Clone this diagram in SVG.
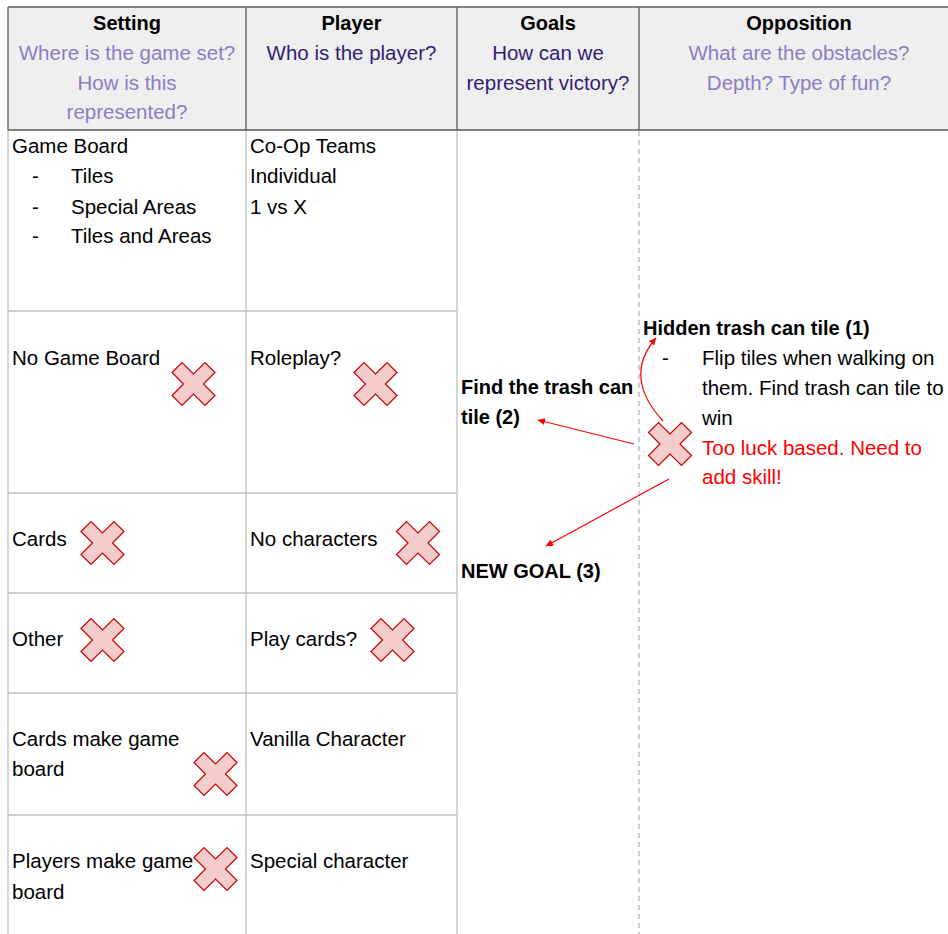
<svg xmlns="http://www.w3.org/2000/svg" width="948" height="934" viewBox="0 0 948 934">
<defs>
<style>
.t{font-family:"Liberation Sans",Arial,sans-serif;font-size:20.5px;fill:#000}
.b{font-family:"Liberation Sans",Arial,sans-serif;font-size:20px;font-weight:bold;fill:#000}
.hl{fill:#8e7cc3}
.hd{fill:#351c75}
.red{fill:#ff0000}
.c{text-anchor:middle}
.hb{stroke:#595959;stroke-width:1.3;fill:none}
.gl{stroke:#c0c0c0;stroke-width:1.3;fill:none}
.dash{stroke:#b0b0b0;stroke-width:1.2;stroke-dasharray:5 4;fill:none}
.x{fill:#f4cccc;stroke:#cc0000;stroke-width:1.2}
.arr{stroke:#ff0000;stroke-width:1.2;fill:none;marker-end:url(#ah)}
</style>
<path id="cross" class="x" d="M-21.5,-11.5 L-11.5,-21.5 L0,-10 L11.5,-21.5 L21.5,-11.5 L10,0 L21.5,11.5 L11.5,21.5 L0,10 L-11.5,21.5 L-21.5,11.5 L-10,0 Z"/>
<marker id="ah" markerWidth="8" markerHeight="8" refX="7" refY="4" orient="auto" markerUnits="userSpaceOnUse">
<path d="M0,0.5 L7.5,4 L0,7.5 Z" fill="#ff0000"/>
</marker>
</defs>
<rect width="948" height="934" fill="#ffffff"/>

<g id="grid">
<rect x="8" y="7" width="960" height="123" fill="#efefef"/>
<path class="gl" d="M8,130 V934 M246,130 V934 M457,130 V934 M8,311 H457 M8,493 H457 M8,593 H457 M8,693 H457 M8,815 H457"/>
<path class="dash" d="M639,131 V934"/>
<path class="hb" d="M8,7 H948 M8,130 H948 M8,7 V130 M246,7 V130 M457,7 V130 M639,7 V130"/>
</g>

<g id="header-setting">
<text class="b c" x="127" y="30">Setting</text>
<text class="t hl c" x="127" y="60">Where is the game set?</text>
<text class="t hl c" x="127" y="90">How is this</text>
<text class="t hl c" x="127" y="119">represented?</text>
</g>
<g id="header-player">
<text class="b c" x="351.5" y="30">Player</text>
<text class="t hd c" x="351.5" y="60">Who is the player?</text>
</g>
<g id="header-goals">
<text class="b c" x="548" y="30">Goals</text>
<text class="t hd c" x="548" y="60">How can we</text>
<text class="t hd c" x="548" y="90">represent victory?</text>
</g>
<g id="header-opposition">
<text class="b c" x="799" y="30">Opposition</text>
<text class="t hl c" x="799" y="60">What are the obstacles?</text>
<text class="t hl c" x="799" y="90">Depth? Type of fun?</text>
</g>

<g id="setting-game-board">
<text class="t" x="12" y="153">Game Board</text>
<text class="t" x="32" y="183">-</text><text class="t" x="71" y="183">Tiles</text>
<text class="t" x="32" y="214">-</text><text class="t" x="71" y="214">Special Areas</text>
<text class="t" x="32" y="243">-</text><text class="t" x="71" y="243">Tiles and Areas</text>
</g>
<g id="player-types">
<text class="t" x="250" y="153">Co-Op Teams</text>
<text class="t" x="250" y="183">Individual</text>
<text class="t" x="250" y="214">1 vs X</text>
</g>
<g id="setting-no-board">
<text class="t" x="12" y="365">No Game Board</text>
<use href="#cross" x="193.5" y="384"/>
</g>
<g id="player-roleplay">
<text class="t" x="250" y="365">Roleplay?</text>
<use href="#cross" x="375.5" y="384"/>
</g>
<g id="setting-cards">
<text class="t" x="12" y="546">Cards</text>
<use href="#cross" x="102.5" y="543"/>
</g>
<g id="player-no-characters">
<text class="t" x="250" y="546">No characters</text>
<use href="#cross" x="418" y="543"/>
</g>
<g id="setting-other">
<text class="t" x="12" y="646">Other</text>
<use href="#cross" x="102.5" y="640"/>
</g>
<g id="player-play-cards">
<text class="t" x="250" y="646">Play cards?</text>
<use href="#cross" x="392.5" y="640"/>
</g>
<g id="setting-cards-make-board">
<text class="t" x="12" y="746">Cards make game</text>
<text class="t" x="12" y="776">board</text>
<use href="#cross" x="215.5" y="774"/>
</g>
<g id="player-vanilla">
<text class="t" x="250" y="746">Vanilla Character</text>
</g>
<g id="setting-players-make-board">
<text class="t" x="12" y="868">Players make game</text>
<text class="t" x="12" y="899">board</text>
<use href="#cross" x="215.5" y="869"/>
</g>
<g id="player-special">
<text class="t" x="250" y="868">Special character</text>
</g>

<g id="goal-find-trash">
<text class="b" x="461" y="394">Find the trash can</text>
<text class="b" x="461" y="424">tile (2)</text>
</g>
<g id="goal-new">
<text class="b" x="461" y="578">NEW GOAL (3)</text>
</g>
<g id="opposition-hidden-tile">
<text class="b" x="643" y="335">Hidden trash can tile (1)</text>
<text class="t" x="662" y="365">-</text>
<text class="t" x="702" y="365">Flip tiles when walking on</text>
<text class="t" x="702" y="395">them. Find trash can tile to</text>
<text class="t" x="702" y="425">win</text>
<text class="t red" x="702" y="455">Too luck based. Need to</text>
<text class="t red" x="702" y="484">add skill!</text>
<use href="#cross" x="670" y="444"/>
</g>

<g id="connectors">
<path class="arr" d="M663,421 C640,396 630,368 656,338"/>
<path class="arr" d="M634,444 L538,420"/>
<path class="arr" d="M669,479 L546,546"/>
</g>
</svg>
